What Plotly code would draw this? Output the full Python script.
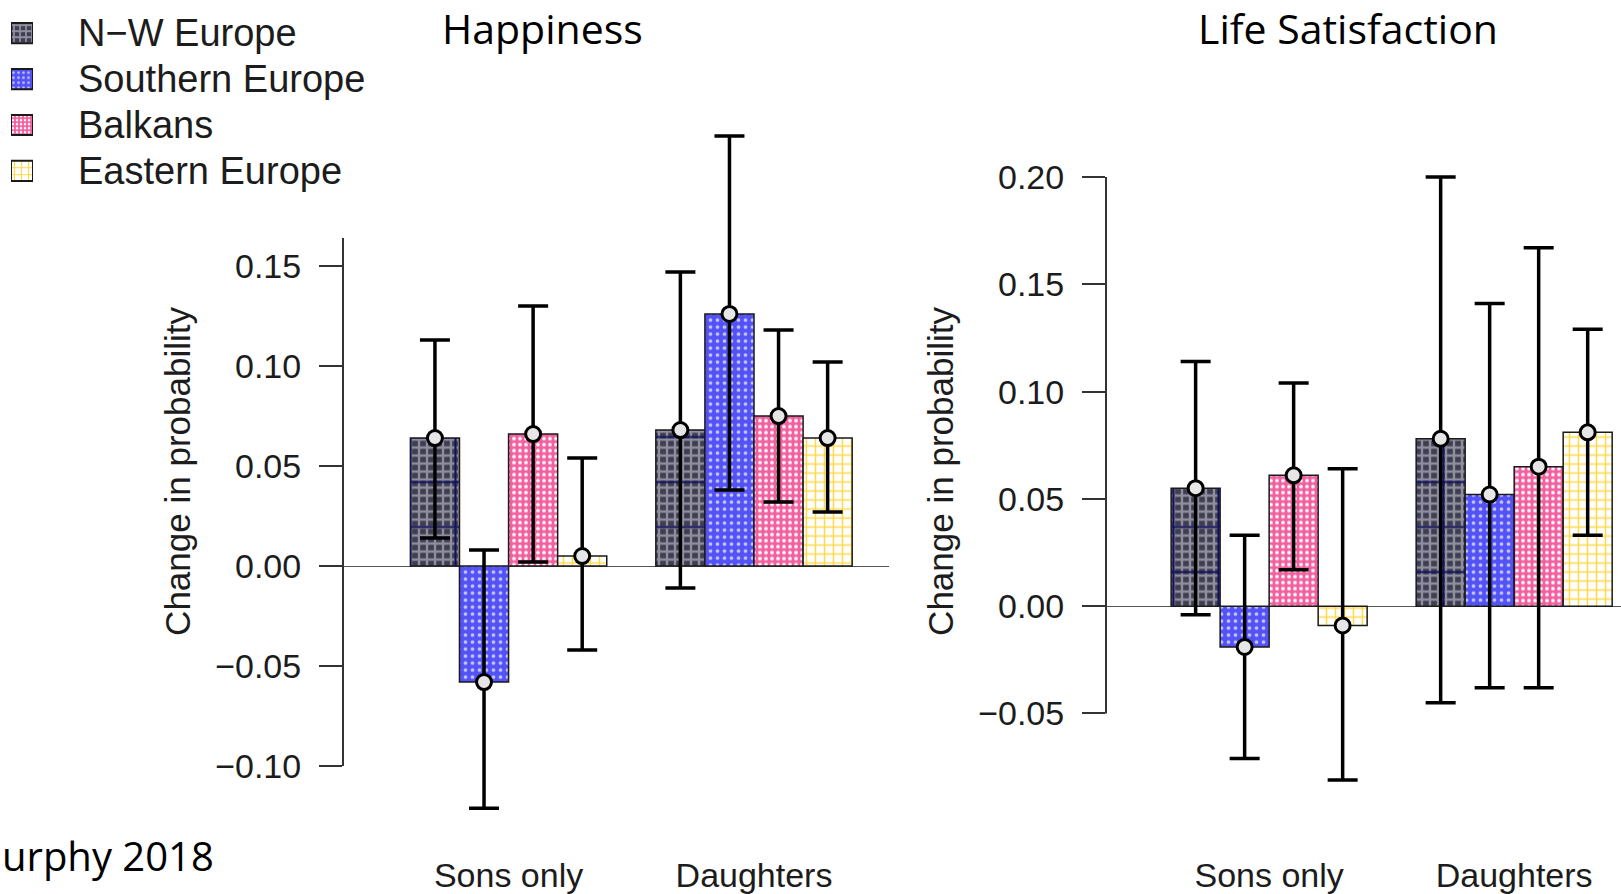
import plotly.graph_objects as go

W, H = 1621, 894

regions = ["N−W Europe", "Southern Europe", "Balkans", "Eastern Europe"]
groups = ["Sons only", "Daughters"]

# Estimates and interval bounds; one row per region, columns = [Sons only, Daughters]
happiness_est = [[0.064, 0.068], [-0.058, 0.126], [0.066, 0.075], [0.005, 0.064]]
happiness_lo = [[0.014, -0.011], [-0.121, 0.038], [0.002, 0.032], [-0.042, 0.027]]
happiness_hi = [[0.113, 0.147], [0.008, 0.215], [0.130, 0.118], [0.054, 0.102]]

life_est = [[0.055, 0.078], [-0.019, 0.052], [0.061, 0.065], [-0.009, 0.081]]
life_lo = [[-0.004, -0.045], [-0.071, -0.038], [0.017, -0.038], [-0.081, 0.033]]
life_hi = [[0.114, 0.200], [0.033, 0.141], [0.104, 0.167], [0.064, 0.129]]

happiness_ticks = [-0.10, -0.05, 0.00, 0.05, 0.10, 0.15]
happiness_ticktext = ["−0.10", "−0.05", "0.00", "0.05", "0.10", "0.15"]
life_ticks = [-0.05, 0.00, 0.05, 0.10, 0.15, 0.20]
life_ticktext = ["−0.05", "0.00", "0.05", "0.10", "0.15", "0.20"]

# Fill texture for each region
fills = [
    dict(bg="#3e3e50", fg="#8e8e9e", shape="+", size=8, solidity=0.5),
    dict(bg="#5252f6", fg="#c4c4ff", shape=".", size=7, solidity=0.22),
    dict(bg="#f2609f", fg="#ffffff", shape=".", size=6, solidity=0.3),
    dict(bg="#ffffff", fg="#ffd94a", shape="+", size=9, solidity=0.3),
]

AXIS_FONT = "Liberation Sans, Arial, sans-serif"
TITLE_FONT = "Open Sans, sans-serif"
INK = "#1c1c1c"


def px_x(p):
    return p / W


def px_y(p):
    return 1 - p / H


fig = go.Figure()


def add_panel(est, lo, hi, xa, ya):
    # bars, one trace per region, positioned in bar-width units
    for i in range(len(regions)):
        xs = [1.5 + i, 6.5 + i]
        f = fills[i]
        fig.add_trace(go.Bar(
            x=xs, y=est[i], width=1, xaxis=xa, yaxis=ya,
            marker=dict(color=f["bg"],
                        pattern=dict(shape=f["shape"], fgcolor=f["fg"], bgcolor=f["bg"],
                                     size=f["size"], solidity=f["solidity"], fillmode="replace"),
                        line=dict(color="#1a1a1a", width=1.5)),
            hoverinfo="skip", showlegend=False))
        if i == 0:
            # coarse navy lines of the tartan fill
            fig.add_trace(go.Bar(
                x=xs, y=est[i], width=1, xaxis=xa, yaxis=ya,
                marker=dict(color="rgba(0,0,0,0)",
                            pattern=dict(shape="+", fgcolor="#12125e", bgcolor="rgba(0,0,0,0)",
                                         size=45, solidity=0.09, fillmode="replace"),
                            line=dict(width=0)),
                hoverinfo="skip", showlegend=False))
    # point estimates with intervals
    for i in range(len(regions)):
        xs = [1.5 + i, 6.5 + i]
        up = [h - e for h, e in zip(hi[i], est[i])]
        down = [e - l for e, l in zip(est[i], lo[i])]
        fig.add_trace(go.Scatter(
            x=xs, y=est[i], xaxis=xa, yaxis=ya, mode="markers",
            marker=dict(symbol="circle", size=15, color="#e6e6e6",
                        line=dict(color="black", width=3)),
            error_y=dict(type="data", symmetric=False, array=up, arrayminus=down,
                         color="black", thickness=3.5, width=15),
            hoverinfo="skip", showlegend=False))


add_panel(happiness_est, happiness_lo, happiness_hi, "x", "y")
add_panel(life_est, life_lo, life_hi, "x2", "y2")

# legend swatches drawn as short horizontal bars on their own axes
for i in range(len(regions)):
    f = fills[i]
    fig.add_trace(go.Bar(
        x=[1], y=[i], base=0, width=0.44, orientation="h", xaxis="x3", yaxis="y3",
        marker=dict(color=f["bg"],
                    pattern=dict(shape=f["shape"], fgcolor=f["fg"], bgcolor=f["bg"],
                                 size=max(4, f["size"] - 2), solidity=f["solidity"],
                                 fillmode="replace"),
                    line=dict(color="#1a1a1a", width=2)),
        hoverinfo="skip", showlegend=False))

y_dom = [px_y(840), px_y(100)]
tick_common = dict(ticks="outside", ticklen=23, tickwidth=2, tickcolor="#333",
                   showgrid=False, showline=False,
                   zeroline=True, zerolinecolor="#555", zerolinewidth=1.3,
                   tickfont=dict(family=AXIS_FONT, size=34, color=INK),
                   ticklabelstandoff=11)
x_common = dict(showgrid=False, showline=False, zeroline=False, ticks="",
                tickvals=[3, 8], ticktext=groups,
                tickfont=dict(family=AXIS_FONT, size=34, color=INK),
                ticklabelstandoff=16)

fig.update_layout(
    width=W, height=H,
    margin=dict(l=0, r=0, t=0, b=0),
    paper_bgcolor="white", plot_bgcolor="white",
    barmode="overlay", showlegend=False,
    xaxis=dict(domain=[px_x(343), px_x(889)], range=[-0.373, 10.75], anchor="y", **x_common),
    yaxis=dict(domain=y_dom, range=[-0.13505, 0.23318], anchor="x",
               tickvals=happiness_ticks, ticktext=happiness_ticktext, **tick_common),
    xaxis2=dict(domain=[px_x(1106), 1.0], range=[-0.329, 10.18], anchor="y2", **x_common),
    yaxis2=dict(domain=y_dom, range=[-0.10721, 0.23610], anchor="x2",
                tickvals=life_ticks, ticktext=life_ticktext, **tick_common),
    xaxis3=dict(domain=[px_x(11), px_x(33)], range=[0, 1], anchor="y3", visible=False),
    yaxis3=dict(domain=[px_y(194.75), px_y(10.25)], range=[3.5, -0.5], anchor="x3", visible=False),
)

# y axis lines
fig.add_shape(type="line", xref="x domain", yref="y", x0=0, x1=0, y0=-0.10, y1=0.164,
              line=dict(color="#333", width=2))
fig.add_shape(type="line", xref="x2 domain", yref="y2", x0=0, x1=0, y0=-0.05, y1=0.20,
              line=dict(color="#333", width=2))

ann = []
ann.append(dict(text="Happiness", x=px_x(542), y=px_y(28), xref="paper", yref="paper",
                showarrow=False, xanchor="center", yanchor="middle",
                font=dict(family=TITLE_FONT, size=41, color="black")))
ann.append(dict(text="Life Satisfaction", x=px_x(1348), y=px_y(28), xref="paper", yref="paper",
                showarrow=False, xanchor="center", yanchor="middle",
                font=dict(family=TITLE_FONT, size=41, color="black")))
ann.append(dict(text="urphy 2018", x=0, y=px_y(859), xref="paper", yref="paper",
                showarrow=False, xanchor="left", yanchor="middle",
                font=dict(family=TITLE_FONT, size=40, color="black")))
for xc in (178, 941):
    ann.append(dict(text="Change in probability", x=px_x(xc), y=px_y(474),
                    xref="paper", yref="paper", showarrow=False, textangle=-90,
                    xanchor="center", yanchor="middle",
                    font=dict(family=AXIS_FONT, size=35, color=INK)))
for i, name in enumerate(regions):
    ann.append(dict(text=name, x=px_x(76), y=px_y(33.3 + 46.1 * i), xref="paper", yref="paper",
                    showarrow=False, xanchor="left", yanchor="middle",
                    font=dict(family=AXIS_FONT, size=38, color=INK)))
fig.update_layout(annotations=ann)

fig.write_html("out.html")
